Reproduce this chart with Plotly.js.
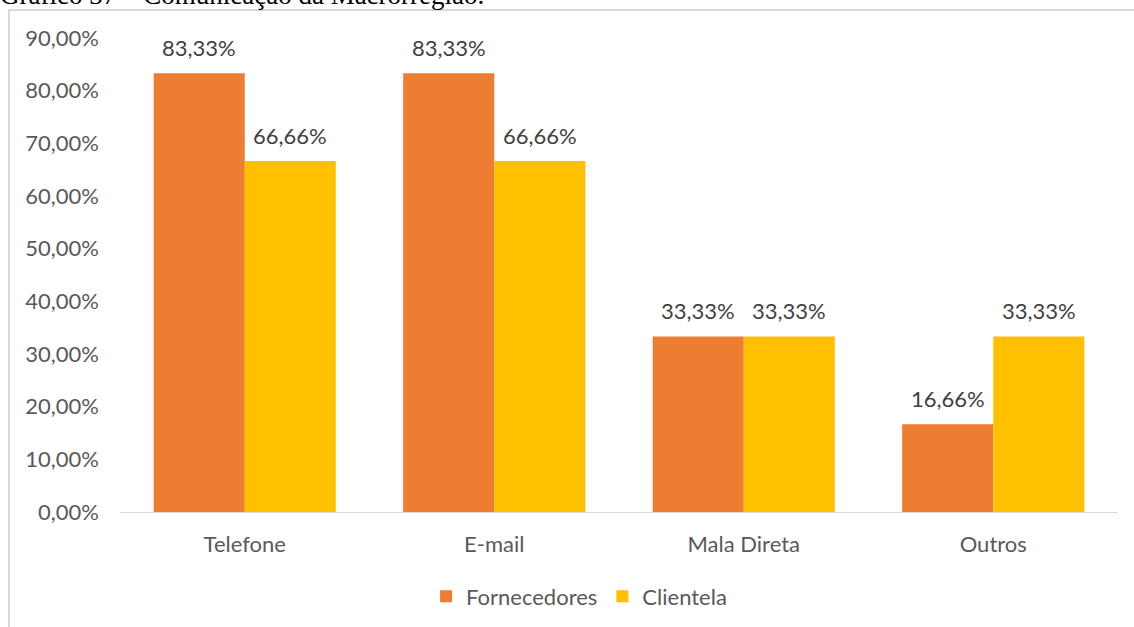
<!DOCTYPE html>
<html>
<head>
<meta charset="utf-8">
<script src="https://cdn.plot.ly/plotly-3.0.1.min.js"></script>
<style>
  html, body { margin: 0; padding: 0; background: #fff; overflow: hidden; }
  #chart { position: absolute; left: 0; top: 0; width: 1134px; height: 627px; }
  #frame { position: absolute; left: 8px; top: 9px; width: 1140px; height: 700px;
           border: 2px solid #d9d9d9; pointer-events: none; box-sizing: border-box; }
  #caption { position: absolute; left: 0px; top: -18px; font-family: "Liberation Serif", "Times New Roman", serif;
             font-size: 27px; line-height: 27px; color: #000; white-space: nowrap; }
</style>
</head>
<body>
<div id="chart"></div>
<div id="frame"></div>
<div id="caption">Gráfico 37 – Comunicação da Macrorregião.</div>
<script>
const categories = ["Telefone", "E-mail", "Mala Direta", "Outros"];
const fornecedores = [0.8333, 0.8333, 0.3333, 0.1666];
const clientela = [0.6666, 0.6666, 0.3333, 0.3333];
const seriesNames = ["Fornecedores", "Clientela"];
const seriesColors = ["#ED7D31", "#FFC000"];

const FONT = "Lato, 'Open Sans', sans-serif";
const FS = 22;
const series = [fornecedores, clientela];

const traces = series.map((vals, i) => ({
  type: "bar",
  name: seriesNames[i],
  x: categories,
  y: vals,
  marker: { color: seriesColors[i] },
  hoverinfo: "none"
}));

const fmt = v => (Math.floor(v * 10000 + 1e-6) / 100).toFixed(2).replace(".", ",") + "%";
const annotations = [];
series.forEach((vals, i) => {
  vals.forEach((v, j) => {
    annotations.push({
      x: categories[j], y: v, xref: "x", yref: "y",
      text: fmt(v), showarrow: false,
      yanchor: "bottom", yshift: 10,
      xshift: (i === 0 ? -45.5 : 45.5),
      font: { family: FONT, size: FS, color: "#404040" }
    });
  });
});

const layout = {
  width: 1134, height: 627,
  margin: { l: 120, r: 16, t: 38, b: 115, autoexpand: false },
  paper_bgcolor: "#fff", plot_bgcolor: "#fff",
  bargap: 0.27, bargroupgap: 0,
  barmode: "group",
  separators: ",.",
  font: { family: FONT, size: FS, color: "#595959" },
  xaxis: {
    showgrid: false, showline: true, linecolor: "#d9d9d9", linewidth: 1,
    ticks: "", tickfont: { family: FONT, size: FS, color: "#595959" },
    ticklabelstandoff: 13, zeroline: false, automargin: false
  },
  yaxis: {
    range: [0, 0.9], dtick: 0.1, tickformat: ".2%",
    showgrid: false, zeroline: false, showline: false, ticks: "",
    tickfont: { family: FONT, size: FS, color: "#595959" },
    ticklabelstandoff: 20, automargin: false
  },
  showlegend: true,
  legend: {
    orientation: "h", x: 0.46, xanchor: "center", y: -0.1337, yanchor: "top",
    font: { family: FONT, size: FS, color: "#595959" },
    itemwidth: 30, traceorder: "normal"
  },
  annotations: annotations
};

Plotly.newPlot("chart", traces, layout, { displayModeBar: false, staticPlot: true });
</script>
</body>
</html>
